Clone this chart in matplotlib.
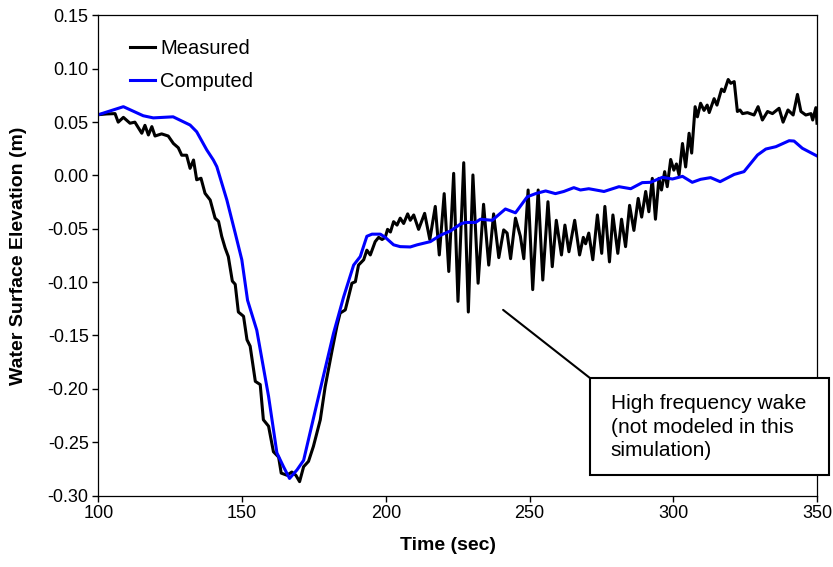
import matplotlib
matplotlib.use("Agg")
import matplotlib.pyplot as plt
from matplotlib.patches import Rectangle

plt.rcParams['font.family'] = ['Liberation Sans', 'DejaVu Sans']
plt.rcParams['axes.unicode_minus'] = False

# Measured water surface elevation (m) vs time (sec)
measured_t = [100, 102.9, 105.8, 106.9, 108.7, 111, 112.7, 115.1, 116.2, 117.4,
              118.6, 119.7, 122, 124.3, 126.1, 127.8, 129, 130.7, 131.9, 133.1,
              134.2, 135.7, 137.1, 138.9, 140.6, 141.8, 142.9, 144.1, 145.2, 146.6,
              147.6, 148.7, 150.5, 151.7, 152.8, 154.6, 156.3, 157.4, 159.2, 160.9,
              162.7, 163.6, 165.6, 167.3, 168.7, 170, 171.4, 173.1, 174.8, 177.2,
              178.9, 181.3, 183, 184.1, 185.9, 187, 188.2, 189.4, 190.5, 192.3,
              193.4, 194.6, 196.3, 197.5, 198.7, 199.8, 200.6, 201.6, 202.7, 203.9,
              205, 206.2, 207.6, 208.5, 209.7, 211.4, 213.5, 215.3, 217.2, 218.6,
              220.3, 221.9, 223.6, 225.1, 227.1, 228.7, 230.3, 232.1, 234, 235.8,
              237.5, 239.3, 241, 242.2, 243.4, 245.1, 246.8, 248, 249.5, 251.1,
              253, 254.6, 256.4, 257.9, 259.3, 261.1, 262.3, 263.7, 265.7, 267.4,
              268.7, 269.5, 270.6, 272, 273.6, 275.1, 276.2, 277.8, 279, 280.7,
              282, 283.4, 284.8, 286.3, 287.8, 289, 290.4, 291.5, 292.7, 293.8,
              295, 295.9, 297, 297.9, 299.1, 300.2, 301.1, 302, 303.2, 304.3,
              305.5, 306.4, 307.6, 308.4, 309.5, 310.7, 311.8, 312.5, 314.2, 315.2,
              316.8, 317.7, 319.1, 320, 321.2, 322.3, 323.2, 324.1, 325.8, 328.1,
              329.5, 331, 332.8, 334.5, 336.8, 338.2, 339.9, 341.7, 343.2, 344.4,
              346.1, 347.9, 348.5, 349.6, 350]
measured_v = [0.057, 0.0577, 0.058, 0.050, 0.0545, 0.049, 0.050, 0.0396, 0.047, 0.038,
              0.0458, 0.037, 0.039, 0.037, 0.030, 0.026, 0.019, 0.019, 0.0067, 0.0145,
              -0.004, -0.0026, -0.0167, -0.023, -0.040, -0.043, -0.057, -0.068, -0.076, -0.099,
              -0.102, -0.128, -0.132, -0.154, -0.160, -0.193, -0.196, -0.229, -0.235, -0.259,
              -0.264, -0.279, -0.281, -0.278, -0.281, -0.287, -0.273, -0.268, -0.254, -0.229,
              -0.198, -0.164, -0.141, -0.129, -0.126, -0.114, -0.101, -0.0996, -0.084, -0.079,
              -0.070, -0.0745, -0.062, -0.058, -0.060, -0.058, -0.0505, -0.053, -0.0433, -0.0465,
              -0.040, -0.045, -0.036, -0.042, -0.037, -0.0505, -0.0355, -0.060, -0.029, -0.0745,
              -0.017, -0.090, 0.002, -0.118, 0.012, -0.128, 0.0005, -0.101, -0.027, -0.084,
              -0.036, -0.077, -0.051, -0.054, -0.078, -0.040, -0.057, -0.078, -0.0136, -0.107,
              -0.0136, -0.098, -0.0246, -0.0855, -0.042, -0.0745, -0.0465, -0.0715, -0.042, -0.0745,
              -0.058, -0.064, -0.054, -0.079, -0.037, -0.073, -0.029, -0.081, -0.037, -0.073,
              -0.041, -0.0667, -0.028, -0.0515, -0.0215, -0.039, -0.015, -0.034, -0.0027, -0.041,
              -0.0027, -0.0136, 0.0036, -0.0105, 0.015, 0.005, 0.0108, 0.0005, 0.030, 0.008,
              0.0396, 0.021, 0.0645, 0.055, 0.0677, 0.061, 0.066, 0.059, 0.072, 0.066,
              0.081, 0.0786, 0.090, 0.0864, 0.088, 0.060, 0.0614, 0.058, 0.0589, 0.0567,
              0.0645, 0.052, 0.060, 0.058, 0.063, 0.050, 0.0614, 0.0567, 0.076, 0.060,
              0.0567, 0.058, 0.052, 0.0636, 0.049]

# Computed water surface elevation (m) vs time (sec)
computed_t = [100, 108.7, 115.6, 119.1, 126, 131.9, 134.2, 137.7, 140, 141.2,
              144.7, 147.6, 149.9, 151.9, 155.1, 159.2, 162.1, 164.4, 166.5, 169.1,
              171.4, 176, 181.8, 185.3, 188.8, 191.1, 193.4, 195.2, 198.1, 199.8,
              202.7, 205, 208.5, 210.9, 215.5, 219, 222.5, 226, 227.7, 231.2,
              232.9, 237, 241.6, 245.1, 249.2, 252.1, 255.6, 259, 261.9, 265.4,
              267.7, 270.6, 275.9, 281.1, 285.2, 289.2, 292.1, 296.2, 299.7, 303.2,
              306.6, 309.5, 313, 316.3, 321.2, 324.6, 329.3, 332.2, 335.7, 340.3,
              342, 344.9, 350]
computed_v = [0.057, 0.0645, 0.056, 0.054, 0.055, 0.0473, 0.041, 0.024, 0.0145, 0.0083,
              -0.023, -0.054, -0.079, -0.117, -0.145, -0.207, -0.260, -0.273, -0.284, -0.276,
              -0.267, -0.214, -0.148, -0.114, -0.084, -0.076, -0.057, -0.055, -0.055, -0.058,
              -0.065, -0.0667, -0.067, -0.065, -0.062, -0.056, -0.052, -0.0455, -0.044, -0.044,
              -0.041, -0.042, -0.0314, -0.035, -0.020, -0.017, -0.0145, -0.017, -0.015, -0.0114,
              -0.0136, -0.0124, -0.015, -0.0105, -0.0124, -0.0067, -0.0064, -0.0017, -0.0033, -0.0008,
              -0.0064, -0.0036, -0.002, -0.0058, 0.001, 0.0036, 0.0192, 0.0248, 0.027, 0.0326,
              0.0323, 0.0255, 0.0183]

x_ticks = [100, 150, 200, 250, 300, 350]
y_ticks = [-0.30, -0.25, -0.20, -0.15, -0.10, -0.05, 0.00, 0.05, 0.10, 0.15]
note = "High frequency wake\n(not modeled in this\nsimulation)"

fig = plt.figure(figsize=(8.33, 5.67), dpi=100)
ax = fig.add_axes([0.1181, 0.1261, 0.8627, 0.8466])

ax.plot(measured_t, measured_v, color='black', lw=2.2, label='Measured', solid_joinstyle='round')
ax.plot(computed_t, computed_v, color='#0000ff', lw=2.2, label='Computed', solid_joinstyle='round')

ax.set_xlim(100, 350)
ax.set_ylim(-0.30, 0.15)
ax.set_xticks(x_ticks)
ax.set_yticks(y_ticks)
ax.set_yticklabels(['%.2f' % v for v in y_ticks])
ax.tick_params(direction='out', length=4, width=1, labelsize=13, pad=3)
for sp in ax.spines.values():
    sp.set_linewidth(0.9)
    sp.set_color('black')

ax.set_xlabel('Time (sec)', fontsize=14, fontweight='bold')
ax.set_ylabel('Water Surface Elevation (m)', fontsize=14, fontweight='bold')
ax.xaxis.set_label_coords(0.487, -0.086)
ax.yaxis.set_label_coords(-0.100, 0.5)

ax.legend(loc='upper left', bbox_to_anchor=(0.044, 0.95), frameon=False, fontsize=14.5,
          borderaxespad=0, borderpad=0, handlelength=1.25, handletextpad=0.25,
          labelspacing=0.65)

# callout for the wake
ax.annotate('', xy=(240.8, -0.126), xycoords='data', xytext=(0.684, 0.2448),
            textcoords='axes fraction',
            arrowprops=dict(arrowstyle='-', lw=1.5, color='black', shrinkA=0, shrinkB=0))
ax.add_patch(Rectangle((0.684, 0.0427), 0.3327, 0.2021, transform=ax.transAxes,
                       facecolor='white', edgecolor='black', lw=1.5, clip_on=False, zorder=5))
ax.text(0.7129, 0.1417, note, transform=ax.transAxes, fontsize=15, va='center', ha='left',
        linespacing=1.3, zorder=6)

fig.savefig('out.png', dpi=100)
